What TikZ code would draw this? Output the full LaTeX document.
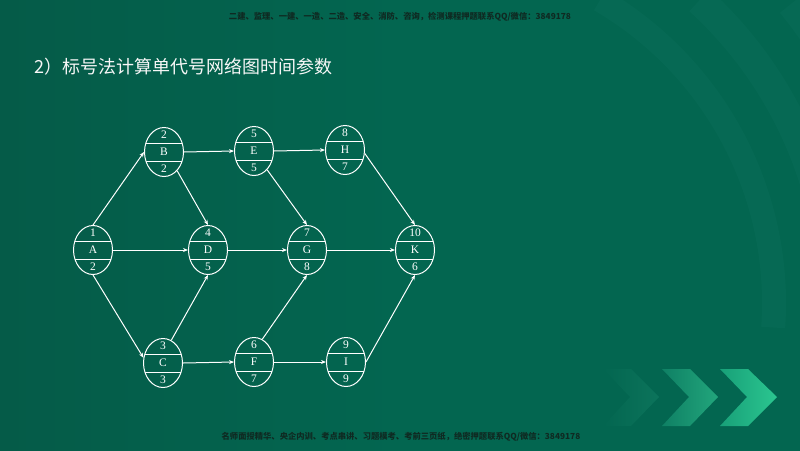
\documentclass[tikz,border=0pt]{standalone}
\usepackage{fontspec}
\setmainfont{Liberation Serif}
\newfontfamily\cjk{Noto Sans CJK SC}
\usetikzlibrary{shapes.geometric,arrows.meta}
\definecolor{bg}{HTML}{036650}
\definecolor{bgdark}{HTML}{055B48}
\definecolor{arcc}{HTML}{0C6E5A}
\definecolor{note}{HTML}{0F2A22}
\definecolor{chevA}{HTML}{0C745B}
\definecolor{chevBl}{HTML}{0F8064}
\definecolor{chevBr}{HTML}{22A67C}
\definecolor{chevCl}{HTML}{18A078}
\definecolor{chevCr}{HTML}{2BC690}
\tikzset{
  ev/.style={ellipse, draw=white, line width=1pt, inner sep=0pt,
    minimum width=39pt, minimum height=49pt,
    path picture={
      \draw[white,line width=0.9pt] ([yshift=9pt]path picture bounding box.west) -- ([yshift=9pt]path picture bounding box.east);
      \draw[white,line width=0.9pt] ([yshift=-9pt]path picture bounding box.west) -- ([yshift=-9pt]path picture bounding box.east);
    }},
  lbl/.style={text=white, font=\fontsize{11.5}{12}\selectfont, inner sep=0pt},
  arr/.style={draw=white, line width=1pt, -{Stealth[length=5pt,width=4pt]}},
  notefont/.style={text=note, font=\cjk\bfseries\fontsize{8.3}{9}\selectfont, inner sep=0pt},
  band/.style={arcc, opacity=0.4},
}
\newcommand\evnode[6]{%
  \node[ev] (#1) at (#2,#3) {};
  \node[lbl] (#1-t) at (#2,#3-17) {#4};
  \node[lbl] (#1-m) at (#2,#3) {#5};
  \node[lbl] (#1-b) at (#2,#3+17) {#6};
}
\begin{document}
\begin{tikzpicture}[x=1pt,y=-1pt]
\shade[left color=bgdark, right color=bg, middle color=bg] (0,0) rectangle (800,450);
\useasboundingbox (0,0) rectangle (800,450);
% faint tunnel arcs (top right)
\begin{scope}
\clip (0,0) rectangle (800,450);
\draw[band, line width=24pt] (423,303) ++(-59.7:351) arc[start angle=-59.7, end angle=4, radius=351];
\draw[band, line width=30pt] (423,303) ++(-47.6:410) arc[start angle=-47.6, end angle=4, radius=410];
\draw[band, line width=40pt] (423,303) ++(-39.1:480) arc[start angle=-39.1, end angle=-20, radius=480];
\end{scope}
% chevrons
\shade[left color=bg, right color=chevA] (603,369) -- (631,369) -- (659,397) -- (631,426) -- (603,426) -- (630,397) -- cycle;
\shade[left color=chevBl, right color=chevBr] (662,369) -- (690,369) -- (718,397) -- (690,426) -- (662,426) -- (689,397) -- cycle;
\shade[left color=chevCl, right color=chevCr] (720,369) -- (748,369) -- (777,397) -- (748,426) -- (720,426) -- (747,397) -- cycle;
% header / footer notes
\node[notefont] (top) at (400,17) {二建、监理、一建、一造、二造、安全、消防、咨询，检测课程押题联系QQ/微信：3849178};
\node[notefont] (bottom) at (401,437) {名师面授精华、央企内训、考点串讲、习题模考、考前三页纸，绝密押题联系QQ/微信：3849178};
% title
\node[anchor=west, text=white!94!gray, font=\cjk\fontsize{18}{20}\selectfont, inner sep=0pt] (title) at (34,67) {2）标号法计算单代号网络图时间参数};
% network nodes
\evnode{A}{93}{250}{1}{A}{2}
\evnode{B}{164}{152}{2}{B}{2}
\evnode{C}{163}{363}{3}{C}{3}
\evnode{D}{208}{250}{4}{D}{5}
\evnode{E}{254}{151}{5}{E}{5}
\evnode{F}{254}{362}{6}{F}{7}
\evnode{G}{307}{250}{7}{G}{8}
\evnode{H}{345}{150}{8}{H}{7}
\evnode{I}{346}{362}{9}{I}{9}
\evnode{K}{415}{250}{10}{K}{6}
% connectors
\draw[arr] (A.north) -- (B.west);
\draw[arr] (A.south) -- (C.165);
\draw[arr] (A.east) -- (D.west);
\draw[arr] (B.-55) -- (D.north);
\draw[arr] (B.east) -- (E.west);
\draw[arr] (C.70) -- (D.south);
\draw[arr] (C.east) -- (F.west);
\draw[arr] (D.east) -- (G.west);
\draw[arr] (E.-55) -- (G.north);
\draw[arr] (E.east) -- (H.west);
\draw[arr] (F.70) -- (G.south);
\draw[arr] (F.east) -- (I.west);
\draw[arr] (G.east) -- (K.west);
\draw[arr] (H.-10) -- (K.north);
\draw[arr] (I.east) -- (K.south);
\end{tikzpicture}
\end{document}
